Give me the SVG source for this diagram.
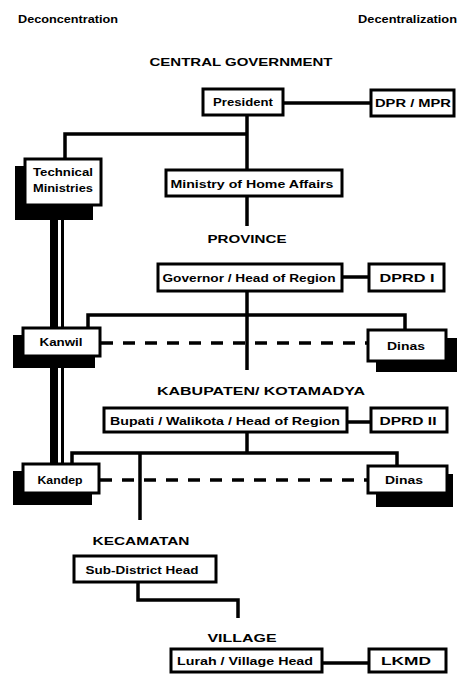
<svg xmlns="http://www.w3.org/2000/svg" width="458" height="676" viewBox="0 0 458 676">
<style>
  text { font-family: "Liberation Sans", Arial, sans-serif; font-weight: bold; fill: #000; }
  .lbl { font-size: 11px; text-anchor: middle; }
  .hdr { font-size: 11px; text-anchor: middle; }
  .box { fill: #fff; stroke: #000; stroke-width: 3; }
  .shadow { fill: #000; }
  .ln { stroke: #000; stroke-width: 3.5; fill: none; }
  .dash { stroke: #000; stroke-width: 3.5; fill: none; stroke-dasharray: 12 10; }
</style>
<rect width="458" height="676" fill="#fff"/>

<g id="headers">
  <text x="18" y="23" font-size="11" textLength="100" lengthAdjust="spacingAndGlyphs">Deconcentration</text>
  <text x="358" y="23" font-size="11" textLength="99" lengthAdjust="spacingAndGlyphs">Decentralization</text>
  <text class="hdr" x="241" y="66" textLength="183" lengthAdjust="spacingAndGlyphs">CENTRAL GOVERNMENT</text>
  <text class="hdr" x="247" y="243" textLength="79" lengthAdjust="spacingAndGlyphs">PROVINCE</text>
  <text class="hdr" x="261" y="395" textLength="208" lengthAdjust="spacingAndGlyphs">KABUPATEN/ KOTAMADYA</text>
  <text class="hdr" x="141" y="545" textLength="97" lengthAdjust="spacingAndGlyphs">KECAMATAN</text>
  <text class="hdr" x="242" y="642" textLength="69" lengthAdjust="spacingAndGlyphs">VILLAGE</text>
</g>

<g id="connectors">
  <line class="ln" x1="283" y1="103" x2="370" y2="103"/>
  <line class="ln" x1="247" y1="115" x2="247" y2="226"/>
  <polyline class="ln" points="247,134 65,134 65,158"/>
  <line x1="54" y1="205" x2="54" y2="463" stroke="#000" stroke-width="8"/>
  <line x1="62.5" y1="205" x2="62.5" y2="463" stroke="#000" stroke-width="3"/>
  <line class="ln" x1="343" y1="277" x2="368" y2="277"/>
  <line class="ln" x1="247" y1="292" x2="247" y2="370"/>
  <polyline class="ln" points="88,327 88,315 405,315 405,329"/>
  <line class="dash" x1="101" y1="343" x2="367" y2="343"/>
  <line class="ln" x1="348" y1="422" x2="370" y2="422"/>
  <line class="ln" x1="247" y1="433" x2="247" y2="453"/>
  <polyline class="ln" points="72,463 72,453 397,453 397,465"/>
  <line class="ln" x1="140" y1="453" x2="140" y2="520"/>
  <line class="dash" x1="100" y1="480" x2="367" y2="480"/>
  <polyline class="ln" points="138,583 138,600 238,600 238,618"/>
  <line class="ln" x1="323" y1="663" x2="368" y2="663"/>
</g>

<g id="president">
  <rect class="box" x="203" y="89" width="80" height="26"/>
  <text class="lbl" x="243" y="106" textLength="60" lengthAdjust="spacingAndGlyphs">President</text>
</g>
<g id="dpr-mpr">
  <rect class="box" x="371" y="90" width="83" height="26"/>
  <text class="lbl" x="413" y="107" textLength="76" lengthAdjust="spacingAndGlyphs">DPR / MPR</text>
</g>
<g id="technical-ministries">
  <rect class="shadow" x="15" y="166" width="78" height="54"/>
  <rect class="box" x="25" y="159" width="76" height="46"/>
  <text class="lbl" x="63" y="176" textLength="60" lengthAdjust="spacingAndGlyphs">Technical</text>
  <text class="lbl" x="63" y="192" textLength="60" lengthAdjust="spacingAndGlyphs">Ministries</text>
</g>
<g id="ministry-home-affairs">
  <rect class="box" x="166" y="170" width="176" height="26"/>
  <text class="lbl" x="252" y="188" textLength="163" lengthAdjust="spacingAndGlyphs">Ministry of Home Affairs</text>
</g>
<g id="governor">
  <rect class="box" x="158" y="264" width="184" height="27"/>
  <text class="lbl" x="249" y="282" textLength="173" lengthAdjust="spacingAndGlyphs">Governor / Head of Region</text>
</g>
<g id="dprd-1">
  <rect class="box" x="369" y="264" width="75" height="27"/>
  <text class="lbl" x="407" y="282" textLength="55" lengthAdjust="spacingAndGlyphs">DPRD I</text>
</g>
<g id="kanwil">
  <rect class="shadow" x="13" y="335" width="82" height="33"/>
  <rect class="box" x="23" y="328" width="77" height="28"/>
  <text class="lbl" x="61" y="346" textLength="43" lengthAdjust="spacingAndGlyphs">Kanwil</text>
</g>
<g id="dinas-1">
  <rect class="shadow" x="376" y="338" width="81" height="34"/>
  <rect class="box" x="368" y="330" width="78" height="31"/>
  <text class="lbl" x="406" y="350" textLength="38" lengthAdjust="spacingAndGlyphs">Dinas</text>
</g>
<g id="bupati">
  <rect class="box" x="104" y="408" width="243" height="24"/>
  <text class="lbl" x="225" y="425" textLength="230" lengthAdjust="spacingAndGlyphs">Bupati / Walikota / Head of Region</text>
</g>
<g id="dprd-2">
  <rect class="box" x="371" y="408" width="76" height="24"/>
  <text class="lbl" x="408" y="425" textLength="57" lengthAdjust="spacingAndGlyphs">DPRD II</text>
</g>
<g id="kandep">
  <rect class="shadow" x="13" y="471" width="79" height="34"/>
  <rect class="box" x="23" y="464" width="76" height="29"/>
  <text class="lbl" x="60" y="484" textLength="45" lengthAdjust="spacingAndGlyphs">Kandep</text>
</g>
<g id="dinas-2">
  <rect class="shadow" x="376" y="474" width="77" height="33"/>
  <rect class="box" x="368" y="466" width="79" height="27"/>
  <text class="lbl" x="404" y="484" textLength="38" lengthAdjust="spacingAndGlyphs">Dinas</text>
</g>
<g id="sub-district-head">
  <rect class="box" x="74" y="556" width="142" height="26"/>
  <text class="lbl" x="142" y="574" textLength="113" lengthAdjust="spacingAndGlyphs">Sub-District Head</text>
</g>
<g id="lurah">
  <rect class="box" x="171" y="649" width="151" height="23"/>
  <text class="lbl" x="245" y="665" textLength="136" lengthAdjust="spacingAndGlyphs">Lurah / Village Head</text>
</g>
<g id="lkmd">
  <rect class="box" x="369" y="649" width="77" height="23"/>
  <text class="lbl" x="406" y="665" textLength="50" lengthAdjust="spacingAndGlyphs">LKMD</text>
</g>
</svg>
